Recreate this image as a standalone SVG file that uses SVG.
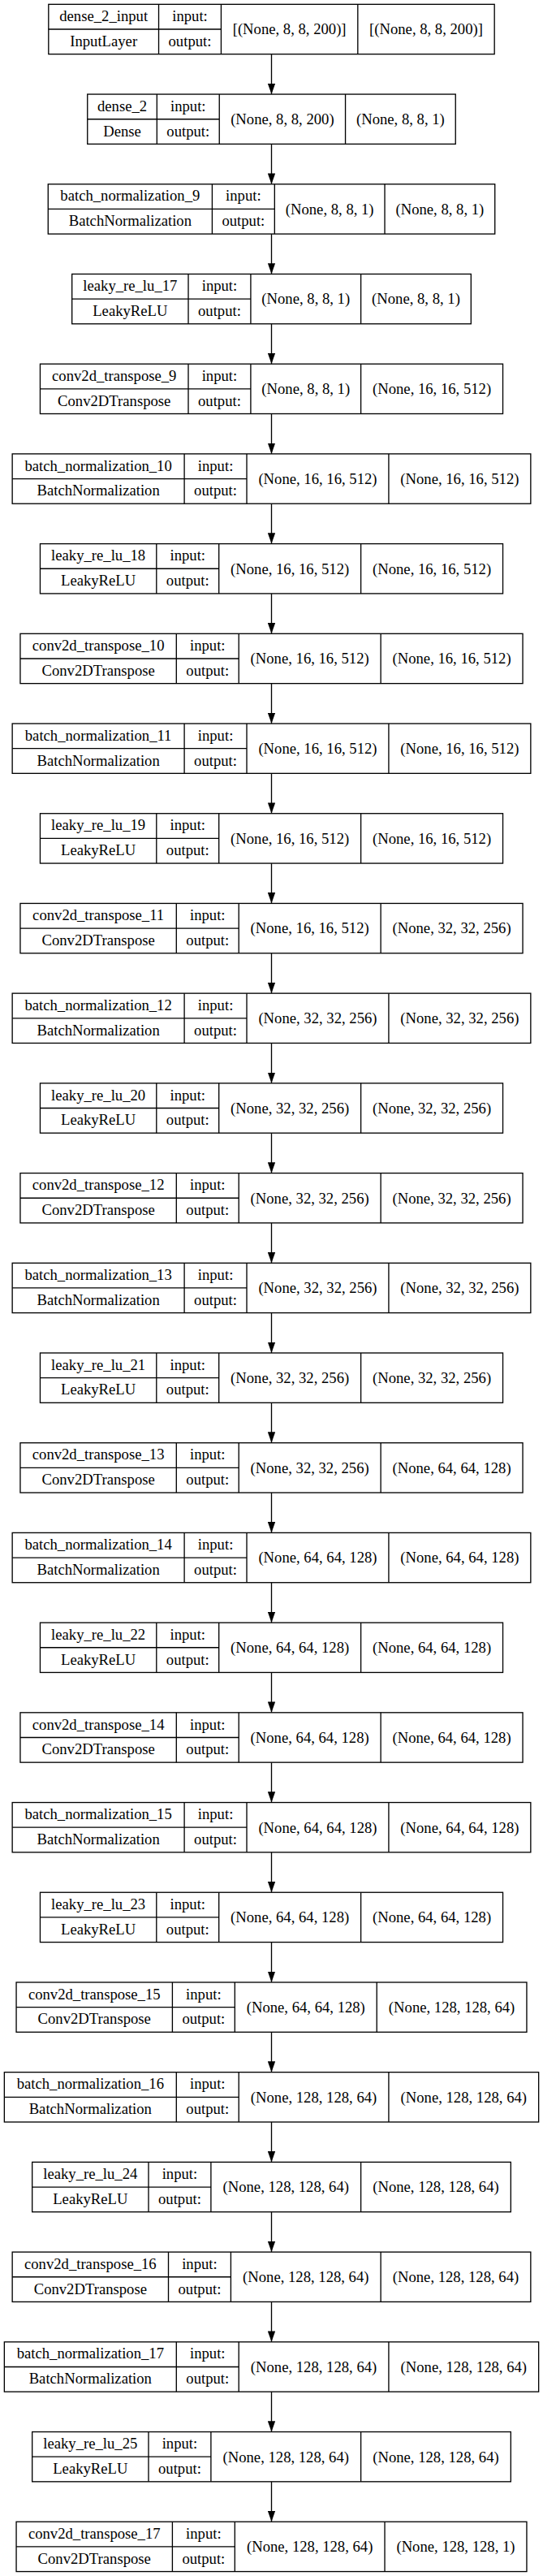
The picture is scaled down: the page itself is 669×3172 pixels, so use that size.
<svg xmlns="http://www.w3.org/2000/svg" width="669" height="3172" viewBox="0 0 669 3172">
<defs>
<style>
.b{fill:#fff;stroke:#000;stroke-width:1.33}
.d{fill:none;stroke:#000;stroke-width:1.33}
.e{fill:none;stroke:#000;stroke-width:1.33;marker-end:url(#ah)}
text{font-family:"Liberation Serif","Times New Roman",serif;font-size:18.67px;text-anchor:middle;fill:#000}
</style>
<marker id="ah" markerUnits="userSpaceOnUse" viewBox="0 0 13.33 9.33" refX="13.33" refY="4.67" markerWidth="13.33" markerHeight="9.33" orient="auto">
<path d="M0,0 L13.33,4.67 L0,9.33 Z" fill="#000"/>
</marker>
</defs>
<rect width="669" height="3172" fill="#fff"/>
<g id="edges">
<path class="e" d="M334.5,66.66V116.04"/>
<path class="e" d="M334.5,177.37V226.75"/>
<path class="e" d="M334.5,288.08V337.46"/>
<path class="e" d="M334.5,398.79V448.17"/>
<path class="e" d="M334.5,509.5V558.88"/>
<path class="e" d="M334.5,620.21V669.59"/>
<path class="e" d="M334.5,730.92V780.3"/>
<path class="e" d="M334.5,841.63V891.01"/>
<path class="e" d="M334.5,952.34V1001.72"/>
<path class="e" d="M334.5,1063.05V1112.43"/>
<path class="e" d="M334.5,1173.76V1223.14"/>
<path class="e" d="M334.5,1284.47V1333.85"/>
<path class="e" d="M334.5,1395.18V1444.56"/>
<path class="e" d="M334.5,1505.89V1555.27"/>
<path class="e" d="M334.5,1616.6V1665.98"/>
<path class="e" d="M334.5,1727.31V1776.69"/>
<path class="e" d="M334.5,1838.02V1887.4"/>
<path class="e" d="M334.5,1948.73V1998.11"/>
<path class="e" d="M334.5,2059.44V2108.82"/>
<path class="e" d="M334.5,2170.15V2219.53"/>
<path class="e" d="M334.5,2280.86V2330.24"/>
<path class="e" d="M334.5,2391.57V2440.95"/>
<path class="e" d="M334.5,2502.28V2551.66"/>
<path class="e" d="M334.5,2612.99V2662.37"/>
<path class="e" d="M334.5,2723.7V2773.08"/>
<path class="e" d="M334.5,2834.41V2883.79"/>
<path class="e" d="M334.5,2945.12V2994.5"/>
<path class="e" d="M334.5,3055.83V3105.21"/>
</g>

<g id="dense_2_input" transform="translate(59.81,5.33)">
<rect class="b" width="549.37" height="61.33"/>
<path class="d" d="M135.72,0V61.33M212.63,0V61.33M381,0V61.33M0,30.67H212.63"/>
<text x="67.86" y="20.7">dense_2_input</text><text x="67.86" y="51.5">InputLayer</text>
<text x="174.18" y="20.7">input:</text><text x="174.18" y="51.5">output:</text>
<text x="296.82" y="37">[(None, 8, 8, 200)]</text><text x="465.19" y="37">[(None, 8, 8, 200)]</text>
</g>

<g id="dense_2" transform="translate(107.74,116.04)">
<rect class="b" width="453.51" height="61.33"/>
<path class="d" d="M85.59,0V61.33M162.5,0V61.33M317.81,0V61.33M0,30.67H162.5"/>
<text x="42.8" y="20.7">dense_2</text><text x="42.8" y="51.5">Dense</text>
<text x="124.05" y="20.7">input:</text><text x="124.05" y="51.5">output:</text>
<text x="240.16" y="37">(None, 8, 8, 200)</text><text x="385.66" y="37">(None, 8, 8, 1)</text>
</g>

<g id="batch_normalization_9" transform="translate(59.27,226.75)">
<rect class="b" width="550.46" height="61.33"/>
<path class="d" d="M202.15,0V61.33M279.06,0V61.33M414.76,0V61.33M0,30.67H279.06"/>
<text x="101.08" y="20.7">batch_normalization_9</text><text x="101.08" y="51.5">BatchNormalization</text>
<text x="240.61" y="20.7">input:</text><text x="240.61" y="51.5">output:</text>
<text x="346.91" y="37">(None, 8, 8, 1)</text><text x="482.61" y="37">(None, 8, 8, 1)</text>
</g>

<g id="leaky_re_lu_17" transform="translate(88.68,337.46)">
<rect class="b" width="491.64" height="61.33"/>
<path class="d" d="M143.33,0V61.33M220.24,0V61.33M355.94,0V61.33M0,30.67H220.24"/>
<text x="71.67" y="20.7">leaky_re_lu_17</text><text x="71.67" y="51.5">LeakyReLU</text>
<text x="181.79" y="20.7">input:</text><text x="181.79" y="51.5">output:</text>
<text x="288.09" y="37">(None, 8, 8, 1)</text><text x="423.79" y="37">(None, 8, 8, 1)</text>
</g>

<g id="conv2d_transpose_9" transform="translate(49.46,448.17)">
<rect class="b" width="570.07" height="61.33"/>
<path class="d" d="M182.54,0V61.33M259.45,0V61.33M395.15,0V61.33M0,30.67H259.45"/>
<text x="91.27" y="20.7">conv2d_transpose_9</text><text x="91.27" y="51.5">Conv2DTranspose</text>
<text x="221" y="20.7">input:</text><text x="221" y="51.5">output:</text>
<text x="327.3" y="37">(None, 8, 8, 1)</text><text x="482.61" y="37">(None, 16, 16, 512)</text>
</g>

<g id="batch_normalization_10" transform="translate(15.14,558.88)">
<rect class="b" width="638.71" height="61.33"/>
<path class="d" d="M211.96,0V61.33M288.87,0V61.33M463.79,0V61.33M0,30.67H288.87"/>
<text x="105.98" y="20.7">batch_normalization_10</text><text x="105.98" y="51.5">BatchNormalization</text>
<text x="250.42" y="20.7">input:</text><text x="250.42" y="51.5">output:</text>
<text x="376.33" y="37">(None, 16, 16, 512)</text><text x="551.25" y="37">(None, 16, 16, 512)</text>
</g>

<g id="leaky_re_lu_18" transform="translate(49.46,669.59)">
<rect class="b" width="570.08" height="61.33"/>
<path class="d" d="M143.33,0V61.33M220.24,0V61.33M395.16,0V61.33M0,30.67H220.24"/>
<text x="71.67" y="20.7">leaky_re_lu_18</text><text x="71.67" y="51.5">LeakyReLU</text>
<text x="181.79" y="20.7">input:</text><text x="181.79" y="51.5">output:</text>
<text x="307.7" y="37">(None, 16, 16, 512)</text><text x="482.62" y="37">(None, 16, 16, 512)</text>
</g>

<g id="conv2d_transpose_10" transform="translate(24.95,780.3)">
<rect class="b" width="619.1" height="61.33"/>
<path class="d" d="M192.35,0V61.33M269.26,0V61.33M444.18,0V61.33M0,30.67H269.26"/>
<text x="96.18" y="20.7">conv2d_transpose_10</text><text x="96.18" y="51.5">Conv2DTranspose</text>
<text x="230.81" y="20.7">input:</text><text x="230.81" y="51.5">output:</text>
<text x="356.72" y="37">(None, 16, 16, 512)</text><text x="531.64" y="37">(None, 16, 16, 512)</text>
</g>

<g id="batch_normalization_11" transform="translate(15.14,891.01)">
<rect class="b" width="638.71" height="61.33"/>
<path class="d" d="M211.96,0V61.33M288.87,0V61.33M463.79,0V61.33M0,30.67H288.87"/>
<text x="105.98" y="20.7">batch_normalization_11</text><text x="105.98" y="51.5">BatchNormalization</text>
<text x="250.42" y="20.7">input:</text><text x="250.42" y="51.5">output:</text>
<text x="376.33" y="37">(None, 16, 16, 512)</text><text x="551.25" y="37">(None, 16, 16, 512)</text>
</g>

<g id="leaky_re_lu_19" transform="translate(49.46,1001.72)">
<rect class="b" width="570.08" height="61.33"/>
<path class="d" d="M143.33,0V61.33M220.24,0V61.33M395.16,0V61.33M0,30.67H220.24"/>
<text x="71.67" y="20.7">leaky_re_lu_19</text><text x="71.67" y="51.5">LeakyReLU</text>
<text x="181.79" y="20.7">input:</text><text x="181.79" y="51.5">output:</text>
<text x="307.7" y="37">(None, 16, 16, 512)</text><text x="482.62" y="37">(None, 16, 16, 512)</text>
</g>

<g id="conv2d_transpose_11" transform="translate(24.95,1112.43)">
<rect class="b" width="619.1" height="61.33"/>
<path class="d" d="M192.35,0V61.33M269.26,0V61.33M444.18,0V61.33M0,30.67H269.26"/>
<text x="96.18" y="20.7">conv2d_transpose_11</text><text x="96.18" y="51.5">Conv2DTranspose</text>
<text x="230.81" y="20.7">input:</text><text x="230.81" y="51.5">output:</text>
<text x="356.72" y="37">(None, 16, 16, 512)</text><text x="531.64" y="37">(None, 32, 32, 256)</text>
</g>

<g id="batch_normalization_12" transform="translate(15.14,1223.14)">
<rect class="b" width="638.71" height="61.33"/>
<path class="d" d="M211.96,0V61.33M288.87,0V61.33M463.79,0V61.33M0,30.67H288.87"/>
<text x="105.98" y="20.7">batch_normalization_12</text><text x="105.98" y="51.5">BatchNormalization</text>
<text x="250.42" y="20.7">input:</text><text x="250.42" y="51.5">output:</text>
<text x="376.33" y="37">(None, 32, 32, 256)</text><text x="551.25" y="37">(None, 32, 32, 256)</text>
</g>

<g id="leaky_re_lu_20" transform="translate(49.46,1333.85)">
<rect class="b" width="570.08" height="61.33"/>
<path class="d" d="M143.33,0V61.33M220.24,0V61.33M395.16,0V61.33M0,30.67H220.24"/>
<text x="71.67" y="20.7">leaky_re_lu_20</text><text x="71.67" y="51.5">LeakyReLU</text>
<text x="181.79" y="20.7">input:</text><text x="181.79" y="51.5">output:</text>
<text x="307.7" y="37">(None, 32, 32, 256)</text><text x="482.62" y="37">(None, 32, 32, 256)</text>
</g>

<g id="conv2d_transpose_12" transform="translate(24.95,1444.56)">
<rect class="b" width="619.1" height="61.33"/>
<path class="d" d="M192.35,0V61.33M269.26,0V61.33M444.18,0V61.33M0,30.67H269.26"/>
<text x="96.18" y="20.7">conv2d_transpose_12</text><text x="96.18" y="51.5">Conv2DTranspose</text>
<text x="230.81" y="20.7">input:</text><text x="230.81" y="51.5">output:</text>
<text x="356.72" y="37">(None, 32, 32, 256)</text><text x="531.64" y="37">(None, 32, 32, 256)</text>
</g>

<g id="batch_normalization_13" transform="translate(15.14,1555.27)">
<rect class="b" width="638.71" height="61.33"/>
<path class="d" d="M211.96,0V61.33M288.87,0V61.33M463.79,0V61.33M0,30.67H288.87"/>
<text x="105.98" y="20.7">batch_normalization_13</text><text x="105.98" y="51.5">BatchNormalization</text>
<text x="250.42" y="20.7">input:</text><text x="250.42" y="51.5">output:</text>
<text x="376.33" y="37">(None, 32, 32, 256)</text><text x="551.25" y="37">(None, 32, 32, 256)</text>
</g>

<g id="leaky_re_lu_21" transform="translate(49.46,1665.98)">
<rect class="b" width="570.08" height="61.33"/>
<path class="d" d="M143.33,0V61.33M220.24,0V61.33M395.16,0V61.33M0,30.67H220.24"/>
<text x="71.67" y="20.7">leaky_re_lu_21</text><text x="71.67" y="51.5">LeakyReLU</text>
<text x="181.79" y="20.7">input:</text><text x="181.79" y="51.5">output:</text>
<text x="307.7" y="37">(None, 32, 32, 256)</text><text x="482.62" y="37">(None, 32, 32, 256)</text>
</g>

<g id="conv2d_transpose_13" transform="translate(24.95,1776.69)">
<rect class="b" width="619.1" height="61.33"/>
<path class="d" d="M192.35,0V61.33M269.26,0V61.33M444.18,0V61.33M0,30.67H269.26"/>
<text x="96.18" y="20.7">conv2d_transpose_13</text><text x="96.18" y="51.5">Conv2DTranspose</text>
<text x="230.81" y="20.7">input:</text><text x="230.81" y="51.5">output:</text>
<text x="356.72" y="37">(None, 32, 32, 256)</text><text x="531.64" y="37">(None, 64, 64, 128)</text>
</g>

<g id="batch_normalization_14" transform="translate(15.14,1887.4)">
<rect class="b" width="638.71" height="61.33"/>
<path class="d" d="M211.96,0V61.33M288.87,0V61.33M463.79,0V61.33M0,30.67H288.87"/>
<text x="105.98" y="20.7">batch_normalization_14</text><text x="105.98" y="51.5">BatchNormalization</text>
<text x="250.42" y="20.7">input:</text><text x="250.42" y="51.5">output:</text>
<text x="376.33" y="37">(None, 64, 64, 128)</text><text x="551.25" y="37">(None, 64, 64, 128)</text>
</g>

<g id="leaky_re_lu_22" transform="translate(49.46,1998.11)">
<rect class="b" width="570.08" height="61.33"/>
<path class="d" d="M143.33,0V61.33M220.24,0V61.33M395.16,0V61.33M0,30.67H220.24"/>
<text x="71.67" y="20.7">leaky_re_lu_22</text><text x="71.67" y="51.5">LeakyReLU</text>
<text x="181.79" y="20.7">input:</text><text x="181.79" y="51.5">output:</text>
<text x="307.7" y="37">(None, 64, 64, 128)</text><text x="482.62" y="37">(None, 64, 64, 128)</text>
</g>

<g id="conv2d_transpose_14" transform="translate(24.95,2108.82)">
<rect class="b" width="619.1" height="61.33"/>
<path class="d" d="M192.35,0V61.33M269.26,0V61.33M444.18,0V61.33M0,30.67H269.26"/>
<text x="96.18" y="20.7">conv2d_transpose_14</text><text x="96.18" y="51.5">Conv2DTranspose</text>
<text x="230.81" y="20.7">input:</text><text x="230.81" y="51.5">output:</text>
<text x="356.72" y="37">(None, 64, 64, 128)</text><text x="531.64" y="37">(None, 64, 64, 128)</text>
</g>

<g id="batch_normalization_15" transform="translate(15.14,2219.53)">
<rect class="b" width="638.71" height="61.33"/>
<path class="d" d="M211.96,0V61.33M288.87,0V61.33M463.79,0V61.33M0,30.67H288.87"/>
<text x="105.98" y="20.7">batch_normalization_15</text><text x="105.98" y="51.5">BatchNormalization</text>
<text x="250.42" y="20.7">input:</text><text x="250.42" y="51.5">output:</text>
<text x="376.33" y="37">(None, 64, 64, 128)</text><text x="551.25" y="37">(None, 64, 64, 128)</text>
</g>

<g id="leaky_re_lu_23" transform="translate(49.46,2330.24)">
<rect class="b" width="570.08" height="61.33"/>
<path class="d" d="M143.33,0V61.33M220.24,0V61.33M395.16,0V61.33M0,30.67H220.24"/>
<text x="71.67" y="20.7">leaky_re_lu_23</text><text x="71.67" y="51.5">LeakyReLU</text>
<text x="181.79" y="20.7">input:</text><text x="181.79" y="51.5">output:</text>
<text x="307.7" y="37">(None, 64, 64, 128)</text><text x="482.62" y="37">(None, 64, 64, 128)</text>
</g>

<g id="conv2d_transpose_15" transform="translate(20.05,2440.95)">
<rect class="b" width="628.9" height="61.33"/>
<path class="d" d="M192.35,0V61.33M269.26,0V61.33M444.18,0V61.33M0,30.67H269.26"/>
<text x="96.18" y="20.7">conv2d_transpose_15</text><text x="96.18" y="51.5">Conv2DTranspose</text>
<text x="230.81" y="20.7">input:</text><text x="230.81" y="51.5">output:</text>
<text x="356.72" y="37">(None, 64, 64, 128)</text><text x="536.54" y="37">(None, 128, 128, 64)</text>
</g>

<g id="batch_normalization_16" transform="translate(5.34,2551.66)">
<rect class="b" width="658.31" height="61.33"/>
<path class="d" d="M211.96,0V61.33M288.87,0V61.33M473.59,0V61.33M0,30.67H288.87"/>
<text x="105.98" y="20.7">batch_normalization_16</text><text x="105.98" y="51.5">BatchNormalization</text>
<text x="250.42" y="20.7">input:</text><text x="250.42" y="51.5">output:</text>
<text x="381.23" y="37">(None, 128, 128, 64)</text><text x="565.95" y="37">(None, 128, 128, 64)</text>
</g>

<g id="leaky_re_lu_24" transform="translate(39.66,2662.37)">
<rect class="b" width="589.68" height="61.33"/>
<path class="d" d="M143.33,0V61.33M220.24,0V61.33M404.96,0V61.33M0,30.67H220.24"/>
<text x="71.67" y="20.7">leaky_re_lu_24</text><text x="71.67" y="51.5">LeakyReLU</text>
<text x="181.79" y="20.7">input:</text><text x="181.79" y="51.5">output:</text>
<text x="312.6" y="37">(None, 128, 128, 64)</text><text x="497.32" y="37">(None, 128, 128, 64)</text>
</g>

<g id="conv2d_transpose_16" transform="translate(15.15,2773.08)">
<rect class="b" width="638.7" height="61.33"/>
<path class="d" d="M192.35,0V61.33M269.26,0V61.33M453.98,0V61.33M0,30.67H269.26"/>
<text x="96.18" y="20.7">conv2d_transpose_16</text><text x="96.18" y="51.5">Conv2DTranspose</text>
<text x="230.81" y="20.7">input:</text><text x="230.81" y="51.5">output:</text>
<text x="361.62" y="37">(None, 128, 128, 64)</text><text x="546.34" y="37">(None, 128, 128, 64)</text>
</g>

<g id="batch_normalization_17" transform="translate(5.34,2883.79)">
<rect class="b" width="658.31" height="61.33"/>
<path class="d" d="M211.96,0V61.33M288.87,0V61.33M473.59,0V61.33M0,30.67H288.87"/>
<text x="105.98" y="20.7">batch_normalization_17</text><text x="105.98" y="51.5">BatchNormalization</text>
<text x="250.42" y="20.7">input:</text><text x="250.42" y="51.5">output:</text>
<text x="381.23" y="37">(None, 128, 128, 64)</text><text x="565.95" y="37">(None, 128, 128, 64)</text>
</g>

<g id="leaky_re_lu_25" transform="translate(39.66,2994.5)">
<rect class="b" width="589.68" height="61.33"/>
<path class="d" d="M143.33,0V61.33M220.24,0V61.33M404.96,0V61.33M0,30.67H220.24"/>
<text x="71.67" y="20.7">leaky_re_lu_25</text><text x="71.67" y="51.5">LeakyReLU</text>
<text x="181.79" y="20.7">input:</text><text x="181.79" y="51.5">output:</text>
<text x="312.6" y="37">(None, 128, 128, 64)</text><text x="497.32" y="37">(None, 128, 128, 64)</text>
</g>

<g id="conv2d_transpose_17" transform="translate(20.05,3105.21)">
<rect class="b" width="628.9" height="61.33"/>
<path class="d" d="M192.35,0V61.33M269.26,0V61.33M453.98,0V61.33M0,30.67H269.26"/>
<text x="96.18" y="20.7">conv2d_transpose_17</text><text x="96.18" y="51.5">Conv2DTranspose</text>
<text x="230.81" y="20.7">input:</text><text x="230.81" y="51.5">output:</text>
<text x="361.62" y="37">(None, 128, 128, 64)</text><text x="541.44" y="37">(None, 128, 128, 1)</text>
</g>
</svg>
